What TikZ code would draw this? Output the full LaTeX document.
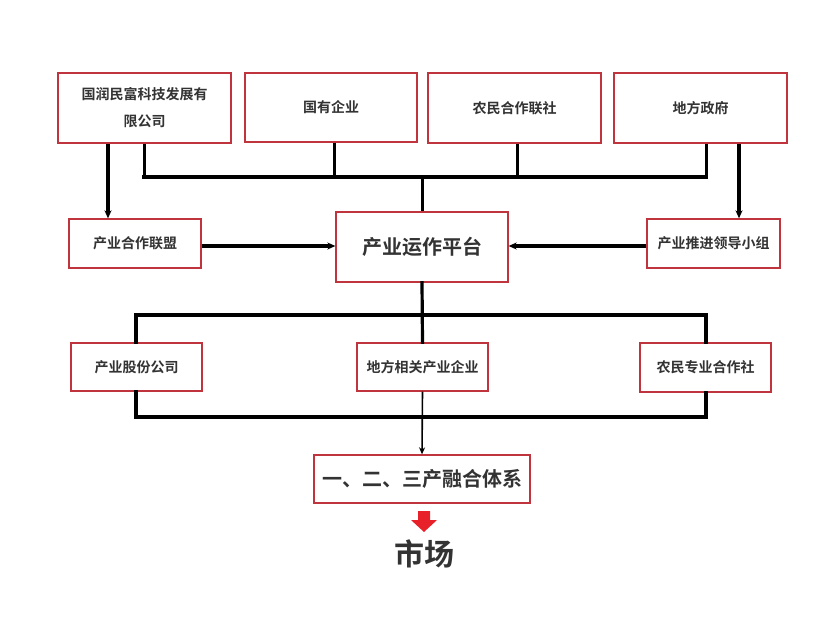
\documentclass[tikz,border=0pt]{standalone}
\usepackage{fontspec}
\setmainfont{Noto Sans CJK SC}[BoldFont={* Bold}]
\usetikzlibrary{arrows.meta}
\definecolor{boxred}{HTML}{C0353D}
\definecolor{txt}{HTML}{333333}
\definecolor{arrred}{HTML}{E8202A}
\tikzset{
  box/.style={draw=boxred, line width=1.3pt, fill=white, text=txt, font=\bfseries\fontsize{14}{27}\selectfont, align=center, inner sep=0pt},
  bus/.style={line width=3.2pt, line cap=rect},
  link/.style={line width=3pt},
  arr/.style={line width=3.2pt, -{Stealth[length=8pt,width=7pt]}},
  thinarr/.style={line width=1.6pt, -{Stealth[length=7pt,width=6pt]}}
}
\begin{document}
\begin{tikzpicture}[x=1pt,y=-1pt]
\useasboundingbox (0,0) rectangle (830,618);
% top row
\node[box, minimum width=173pt, minimum height=70pt] (b1) at (144.5,108) {国润民富科技发展有\\限公司};
\node[box, minimum width=172pt, minimum height=69pt] (b2) at (331,107.5) {国有企业};
\node[box, minimum width=173pt, minimum height=70pt] (b3) at (514.5,108) {农民合作联社};
\node[box, minimum width=173pt, minimum height=70pt] (b4) at (700.5,108) {地方政府};
% middle row
\node[box, minimum width=132pt, minimum height=49pt] (m1) at (135,243.5) {产业合作联盟};
\node[box, minimum width=172pt, minimum height=70pt, font=\bfseries\fontsize{20}{24}\selectfont] (m2) at (422,247) {产业运作平台};
\node[box, minimum width=133pt, minimum height=49pt] (m3) at (713.5,243.5) {产业推进领导小组};
% lower row
\node[box, minimum width=131pt, minimum height=48pt] (l1) at (136.5,367) {产业股份公司};
\node[box, minimum width=131pt, minimum height=48pt] (l2) at (422.5,367) {地方相关产业企业};
\node[box, minimum width=131pt, minimum height=49pt] (l3) at (705.5,367.5) {农民专业合作社};
% bottom
\node[box, minimum width=216pt, minimum height=48pt, font=\bfseries\fontsize{20}{24}\selectfont] (bt) at (422,479) {一、二、三产融合体系};
\node[text=txt, font=\bfseries\fontsize{30}{35}\selectfont, inner sep=0pt] (mk) at (424,554) {市场};
% coordinates
\coordinate (t1) at (144,177);
\coordinate (t2) at (334,177);
\coordinate (t3) at (517,177);
\coordinate (tc) at (422,177);
\coordinate (t4) at (706,177);
\coordinate (a1) at (108,0);
\coordinate (a4) at (739,0);
\coordinate (ha) at (0,246);
\coordinate (u1) at (136,315);
\coordinate (uc) at (422,315);
\coordinate (u3) at (706,315);
\coordinate (d1) at (136,417);
\coordinate (d3) at (706,417);
% top connectors
\draw[link] (b1.south -| t1) -- (t1);
\draw[link] (b2.south -| t2) -- (t2);
\draw[link] (b3.south -| t3) -- (t3);
\draw[link] (b4.south -| t4) -- (t4);
\draw[bus] (t1) -- (t4);
\draw[link] (tc) -- (m2.north);
\draw[arr] (b1.south -| a1) -- (m1.north -| a1);
\draw[arr] (b4.south -| a4) -- (m3.north -| a4);
\draw[arr] (m1.east |- ha) -- (m2.west |- ha);
\draw[arr] (m3.west |- ha) -- (m2.east |- ha);
% lower connectors
\draw[bus] (m2.south) -- (l2.north);
\draw[bus] (l1.north -| u1) -- (u1) -- (u3) -- (l3.north -| u3);
\draw[bus] (l1.south -| d1) -- (d1) -- (d3) -- (l3.south -| d3);
\draw[thinarr] (l2.south) -- (bt.north);
% red arrow
\fill[arrred] (418,511) -- (430,511) -- (430,520) -- (437,520) -- (424,532) -- (411,520) -- (418,520) -- cycle;
\end{tikzpicture}
\end{document}
